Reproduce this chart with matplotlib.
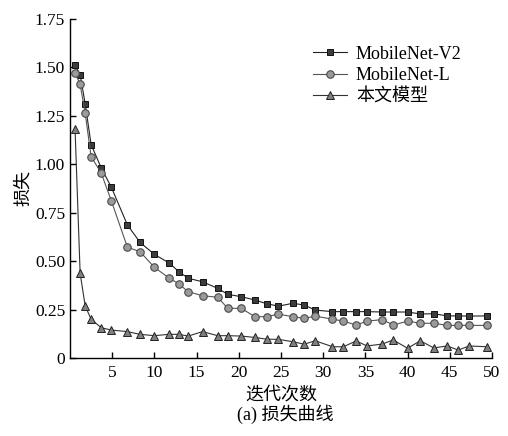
import matplotlib
matplotlib.use("Agg")
import matplotlib.pyplot as plt

plt.rcParams['font.family'] = ['Liberation Serif', 'Noto Sans CJK SC', 'DejaVu Sans']
plt.rcParams['mathtext.fontset'] = 'stix'

# shared iteration positions
iters = [0.6, 1.2, 1.8, 2.5, 3.7, 4.9, 6.8, 8.3, 10.0, 11.7, 12.9, 14.0, 15.7, 17.5,
         18.7, 20.3, 21.9, 23.3, 24.7, 26.4, 27.75, 29.05, 31.1, 32.4, 33.9, 35.2,
         37.0, 38.3, 40.0, 41.5, 43.1, 44.7, 46.0, 47.3, 49.4]

loss_v2 = [1.51, 1.46, 1.31, 1.10, 0.98, 0.88, 0.686, 0.596, 0.534, 0.491, 0.445, 0.411,
           0.393, 0.359, 0.328, 0.316, 0.299, 0.28, 0.267, 0.282, 0.273, 0.247, 0.239,
           0.239, 0.239, 0.239, 0.237, 0.237, 0.237, 0.227, 0.228, 0.217, 0.217, 0.216, 0.217]

loss_l = [1.47, 1.41, 1.262, 1.038, 0.953, 0.81, 0.571, 0.548, 0.467, 0.414, 0.381, 0.342,
          0.321, 0.313, 0.256, 0.256, 0.213, 0.213, 0.226, 0.213, 0.204, 0.216, 0.2,
          0.19, 0.17, 0.19, 0.198, 0.17, 0.19, 0.179, 0.179, 0.168, 0.168, 0.168, 0.168]

loss_ours = [1.18, 0.437, 0.268, 0.2, 0.156, 0.144, 0.136, 0.122, 0.115, 0.122, 0.122, 0.113,
             0.136, 0.115, 0.115, 0.113, 0.106, 0.097, 0.096, 0.084, 0.071, 0.089, 0.058,
             0.058, 0.088, 0.062, 0.072, 0.093, 0.05, 0.089, 0.052, 0.062, 0.041, 0.062, 0.058]

labels = ['MobileNet-V2', 'MobileNet-L', '本文模型']
x_ticks = [5, 10, 15, 20, 25, 30, 35, 40, 45, 50]
y_ticks = [0, 0.25, 0.5, 0.75, 1.0, 1.25, 1.5, 1.75]
y_ticklabels = ['0', '0.25', '0.50', '0.75', '1.00', '1.25', '1.50', '1.75']

fig = plt.figure(figsize=(5.08, 4.36), dpi=100)
ax = fig.add_axes([70/508, 1-358/436, (492-70)/508, (358-18.5)/436])

ax.plot(iters, loss_v2, color='#222222', lw=0.8, marker='s', ms=5.0,
        mfc='#3c3c3c', mec='#111111', mew=0.7, label=labels[0])
ax.plot(iters, loss_l, color='#555555', lw=0.8, marker='o', ms=5.4,
        mfc='#9a9a9a', mec='#4a4a4a', mew=0.8, label=labels[1])
ax.plot(iters, loss_ours, color='#333333', lw=0.8, marker='^', ms=6.0,
        mfc='#808080', mec='#222222', mew=0.7, label=labels[2])

ax.set_xlim(0, 50)
ax.set_ylim(0, 1.75)
ax.set_xticks(x_ticks)
ax.set_yticks(y_ticks)
ax.set_yticklabels(y_ticklabels)
for s in ['top', 'right']:
    ax.spines[s].set_visible(False)
for s in ['left', 'bottom']:
    ax.spines[s].set_linewidth(1.0)
ax.tick_params(direction='in', length=4, width=1.0, labelsize=12.5)
ax.tick_params(axis='x', pad=5)

ax.set_ylabel('损失', fontsize=13, labelpad=2)
ax.set_xlabel('迭代次数', fontsize=13, labelpad=4)
fig.text(285/508, 1-414.5/436, '(a) 损失曲线', ha='center', va='center', fontsize=13)

leg = ax.legend(loc='upper left', bbox_to_anchor=((300-70)/422, (358-33)/339.5),
                frameon=False, fontsize=13, handlelength=1.9, handletextpad=0.5,
                labelspacing=0.25, borderpad=0.2)

fig.savefig('out.png', dpi=100)
